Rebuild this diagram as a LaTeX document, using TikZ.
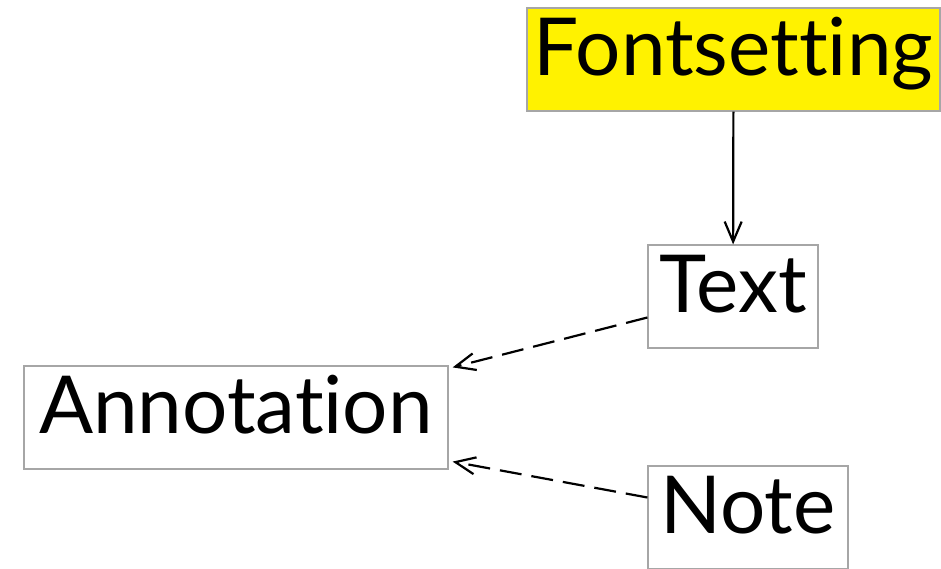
\documentclass[tikz,border=0pt]{standalone}
\usepackage{fontspec}
\setmainfont{Lato}[Ligatures=NoCommon]
\usetikzlibrary{arrows.meta}
\tikzset{
    box/.style={draw=gray!70, line width=1.2pt, rectangle, minimum height=103pt, inner sep=0pt, text height=58pt, text depth=25pt, text centered, font=\fontsize{80}{90}\selectfont},
    arr/.style={-{Straight Barb[length=20pt, width=17pt, line width=2.2pt]}, line width=2.2pt},
    darr/.style={arr, dash pattern=on 22pt off 10pt}
}
\begin{document}
\begin{tikzpicture}[x=1pt, y=1pt]
        \useasboundingbox (0,0) rectangle (941,569);
        % --- Nodes ---
        \node [box, fill=yellow, minimum width=413pt] (fontset) at (733.5, 509.5) {Fontsetting};
        \node [box, minimum width=170pt] (text)  at (733, 272.5) {Text};
        \node [box, minimum width=424pt] (annot) at (236, 151.5) {Annotation};
        \node [box, minimum width=200pt] (note)  at (748, 51.5) {Note};

        % --- Edges ---
        \draw [arr] (fontset) -- (text);
        \draw [darr] ([yshift=-21pt]text.west) -- ([xshift=4pt, yshift=-2pt]annot.north east);
        \draw [darr] ([yshift=20pt]note.west) -- ([xshift=4pt, yshift=8pt]annot.south east);

    \end{tikzpicture}
\end{document}
